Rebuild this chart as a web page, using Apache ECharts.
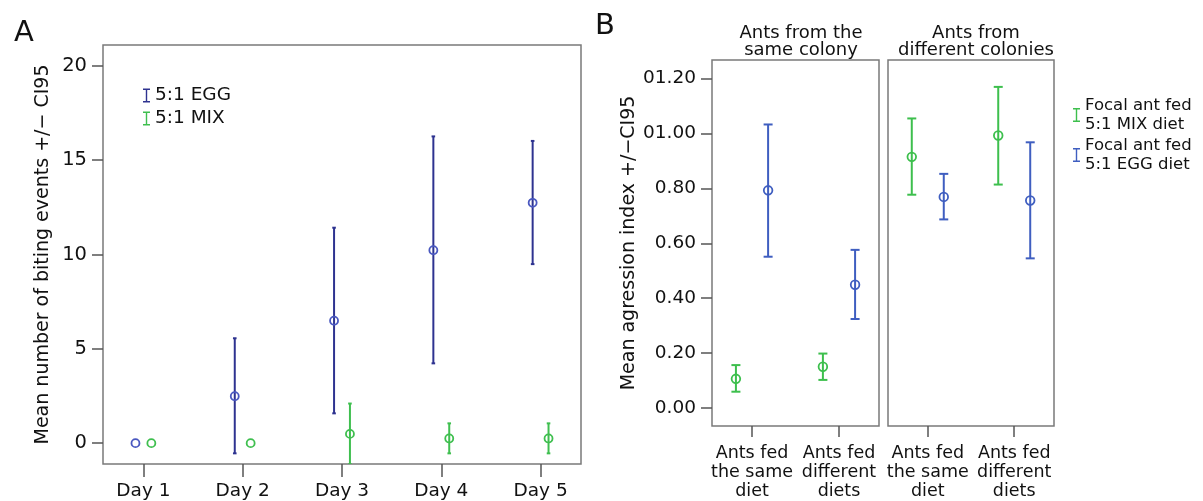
<!DOCTYPE html>
<html>
<head>
<meta charset="utf-8">
<script src="https://cdn.jsdelivr.net/npm/echarts@6/dist/echarts.min.js"></script>
<style>
html,body{margin:0;padding:0;background:#fff;}
#chart{width:1203px;height:501px;}
</style>
</head>
<body>
<div id="chart"></div>
<script>
// ---- Panel A data ----
const days = ['Day 1', 'Day 2', 'Day 3', 'Day 4', 'Day 5'];
const yTicksA = [0, 5, 10, 15, 20];
const eggMean = [0, 2.49, 6.49, 10.23, 12.74];
const eggLow  = [0, -0.54, 1.58, 4.23, 9.49];
const eggHigh = [0, 5.56, 11.42, 16.26, 16.02];
const mixMean = [0, 0, 0.49, 0.25, 0.25];
const mixLow  = [0, 0, -1.12, -0.54, -0.54];
const mixHigh = [0, 0, 2.10, 1.05, 1.05];

// ---- Panel B data ----
const panelsB = ['Ants from the\nsame colony', 'Ants from\ndifferent colonies'];
const groupsB = ['Ants fed\nthe same\ndiet', 'Ants fed\ndifferent\ndiets'];
const yTickLabelsB = ['0.00', '0.20', '0.40', '0.60', '0.80', '01.00', '01.20'];
const yTicksB = [0, 0.2, 0.4, 0.6, 0.8, 1.0, 1.2];
// same colony
const sameMixMean = [0.106, 0.150];
const sameMixLow  = [0.059, 0.102];
const sameMixHigh = [0.156, 0.198];
const sameEggMean = [0.793, 0.449];
const sameEggLow  = [0.551, 0.324];
const sameEggHigh = [1.033, 0.576];
// different colonies
const diffMixMean = [0.915, 0.993];
const diffMixLow  = [0.777, 0.814];
const diffMixHigh = [1.055, 1.170];
const diffEggMean = [0.769, 0.756];
const diffEggLow  = [0.687, 0.545];
const diffEggHigh = [0.853, 0.968];

const FONT = 'DejaVu Sans';
const nameEggA = '5:1 EGG', nameMixA = '5:1 MIX';
const nameMixB = 'Focal ant fed\n5:1 MIX diet', nameEggB = 'Focal ant fed\n5:1 EGG diet';

function rows(mean, low, high) {
  return mean.map((m, i) => [i + 1, m, low[i], high[i]]);
}

function errRender(dodge, capHalf, r, lineColor, dotColor, lw) {
  return function (params, api) {
    const x = api.value(0) + dodge;
    const m = api.value(1), lo = api.value(2), hi = api.value(3);
    const pm = api.coord([x, m]), pl = api.coord([x, lo]), ph = api.coord([x, hi]);
    const ch = [];
    if (hi !== lo) {
      const ls = { stroke: lineColor, lineWidth: lw };
      ch.push({ type: 'line', shape: { x1: pl[0], y1: pl[1], x2: ph[0], y2: ph[1] }, style: ls });
      ch.push({ type: 'line', shape: { x1: ph[0] - capHalf, y1: ph[1], x2: ph[0] + capHalf, y2: ph[1] }, style: ls });
      ch.push({ type: 'line', shape: { x1: pl[0] - capHalf, y1: pl[1], x2: pl[0] + capHalf, y2: pl[1] }, style: ls });
    }
    ch.push({ type: 'circle', shape: { cx: pm[0], cy: pm[1], r: r }, style: { fill: 'none', stroke: dotColor, lineWidth: 1.8 } });
    return { type: 'group', children: ch };
  };
}

const navyA = '#2e3390', navyDotA = '#4a58c0';
const greenA = '#3fbf4f';
const blueB = '#3f5ec0', greenB = '#3dbf4d';
const dodgeA = 0.08, dodgeB = 0.185;

const tickStyle = { show: true, length: 11, lineStyle: { color: '#555', width: 1.5 } };
const noLine = { show: false, onZero: false };
const gridBorder = { show: true, borderColor: '#7a7a7a', borderWidth: 1.5, backgroundColor: 'transparent' };

const legendIcon = 'path://M0,0h10v2h-10zM4,0h2v20h-2zM0,18h10v2h-10z';

const option = {
  animation: false,
  backgroundColor: '#fff',
  textStyle: { fontFamily: FONT },
  title: [
    { text: 'A', left: 9, top: 14, textStyle: { fontFamily: FONT, fontSize: 29, fontWeight: 'normal', color: '#111' } },
    { text: 'B', left: 590, top: 7, textStyle: { fontFamily: FONT, fontSize: 29, fontWeight: 'normal', color: '#111' } },
    { text: panelsB[0], left: 796, top: 20, textAlign: 'center', textStyle: { fontFamily: FONT, fontSize: 18, fontWeight: 'normal', color: '#111', lineHeight: 17, align: 'center' } },
    { text: panelsB[1], left: 971, top: 20, textAlign: 'center', textStyle: { fontFamily: FONT, fontSize: 18, fontWeight: 'normal', color: '#111', lineHeight: 17, align: 'center' } }
  ],
  legend: [
    { data: [nameEggA, nameMixA], orient: 'vertical', left: 138, top: 81, icon: legendIcon, itemWidth: 7, itemHeight: 14, itemGap: 4,
      textStyle: { fontFamily: FONT, fontSize: 18.5, color: '#111' }, selectedMode: false },
    { data: [nameMixB, nameEggB], orient: 'vertical', left: 1068, top: 91, icon: legendIcon, itemWidth: 7, itemHeight: 14, itemGap: 2,
      textStyle: { fontFamily: FONT, fontSize: 16.5, color: '#111', lineHeight: 19 }, selectedMode: false }
  ],
  grid: [
    Object.assign({ left: 103, top: 45, width: 478, height: 422 }, gridBorder),
    Object.assign({ left: 712, top: 60, width: 167, height: 372 }, gridBorder),
    Object.assign({ left: 888, top: 60, width: 166, height: 372 }, gridBorder)
  ],
  xAxis: [
    { type: 'value', gridIndex: 0, min: 0.593, max: 5.407, splitLine: { show: false }, axisLine: noLine,
      axisTick: Object.assign({ customValues: [1, 2, 3, 4, 5] }, tickStyle, { length: 13 }),
      axisLabel: { customValues: [1, 2, 3, 4, 5], formatter: v => days[Math.round(v) - 1], fontFamily: FONT, fontSize: 18.5, color: '#111', margin: 18 } },
    { type: 'value', gridIndex: 1, min: 0.54, max: 2.46, splitLine: { show: false }, axisLine: noLine,
      axisTick: Object.assign({ customValues: [1, 2] }, tickStyle),
      axisLabel: { customValues: [1, 2], formatter: v => groupsB[Math.round(v) - 1], fontFamily: FONT, fontSize: 17.5, color: '#111', margin: 18, lineHeight: 19, align: 'center' } },
    { type: 'value', gridIndex: 2, min: 0.54, max: 2.46, splitLine: { show: false }, axisLine: noLine,
      axisTick: Object.assign({ customValues: [1, 2] }, tickStyle),
      axisLabel: { customValues: [1, 2], formatter: v => groupsB[Math.round(v) - 1], fontFamily: FONT, fontSize: 17.5, color: '#111', margin: 18, lineHeight: 19, align: 'center' } }
  ],
  yAxis: [
    { type: 'value', gridIndex: 0, min: -1.105, max: 21.105, splitLine: { show: false }, axisLine: noLine,
      axisTick: Object.assign({ customValues: yTicksA }, tickStyle),
      axisLabel: { customValues: yTicksA, fontFamily: FONT, fontSize: 19.5, color: '#111', margin: 16 },
      name: 'Mean number of biting events +/\u2212 CI95', nameLocation: 'middle', nameRotate: 90, nameGap: 50,
      nameTextStyle: { fontFamily: FONT, fontSize: 19, color: '#111' } },
    { type: 'value', gridIndex: 1, min: -0.066, max: 1.268, splitLine: { show: false }, axisLine: noLine,
      axisTick: Object.assign({ customValues: yTicksB }, tickStyle),
      axisLabel: { customValues: yTicksB, formatter: v => yTickLabelsB[Math.round(v / 0.2)], fontFamily: FONT, fontSize: 18.5, color: '#111', margin: 16 },
      name: 'Mean agression index +/\u2212CI95', nameLocation: 'middle', nameRotate: 90, nameGap: 73,
      nameTextStyle: { fontFamily: FONT, fontSize: 19, color: '#111' } },
    { type: 'value', gridIndex: 2, min: -0.066, max: 1.268, splitLine: { show: false }, axisLine: noLine,
      axisTick: { show: false }, axisLabel: { show: false } }
  ],
  series: [
    { type: 'custom', name: nameEggA, xAxisIndex: 0, yAxisIndex: 0, clip: true, itemStyle: { color: navyA },
      renderItem: errRender(-dodgeA, 1.8, 4, navyA, navyDotA, 2), data: rows(eggMean, eggLow, eggHigh), encode: { x: 0, y: [1, 2, 3] } },
    { type: 'custom', name: nameMixA, xAxisIndex: 0, yAxisIndex: 0, clip: true, itemStyle: { color: greenA },
      renderItem: errRender(dodgeA, 1.8, 4, greenA, greenA, 2), data: rows(mixMean, mixLow, mixHigh), encode: { x: 0, y: [1, 2, 3] } },
    { type: 'custom', name: nameMixB, xAxisIndex: 1, yAxisIndex: 1, clip: true, itemStyle: { color: greenB },
      renderItem: errRender(-dodgeB, 4.5, 4.3, greenB, greenB, 2), data: rows(sameMixMean, sameMixLow, sameMixHigh), encode: { x: 0, y: [1, 2, 3] } },
    { type: 'custom', name: nameEggB, xAxisIndex: 1, yAxisIndex: 1, clip: true, itemStyle: { color: blueB },
      renderItem: errRender(dodgeB, 4.5, 4.3, blueB, blueB, 2), data: rows(sameEggMean, sameEggLow, sameEggHigh), encode: { x: 0, y: [1, 2, 3] } },
    { type: 'custom', name: nameMixB, xAxisIndex: 2, yAxisIndex: 2, clip: true, itemStyle: { color: greenB },
      renderItem: errRender(-dodgeB, 4.5, 4.3, greenB, greenB, 2), data: rows(diffMixMean, diffMixLow, diffMixHigh), encode: { x: 0, y: [1, 2, 3] } },
    { type: 'custom', name: nameEggB, xAxisIndex: 2, yAxisIndex: 2, clip: true, itemStyle: { color: blueB },
      renderItem: errRender(dodgeB, 4.5, 4.3, blueB, blueB, 2), data: rows(diffEggMean, diffEggLow, diffEggHigh), encode: { x: 0, y: [1, 2, 3] } }
  ]
};

const chart = echarts.init(document.getElementById('chart'), null, { renderer: 'canvas' });
chart.setOption(option);
</script>
</body>
</html>
